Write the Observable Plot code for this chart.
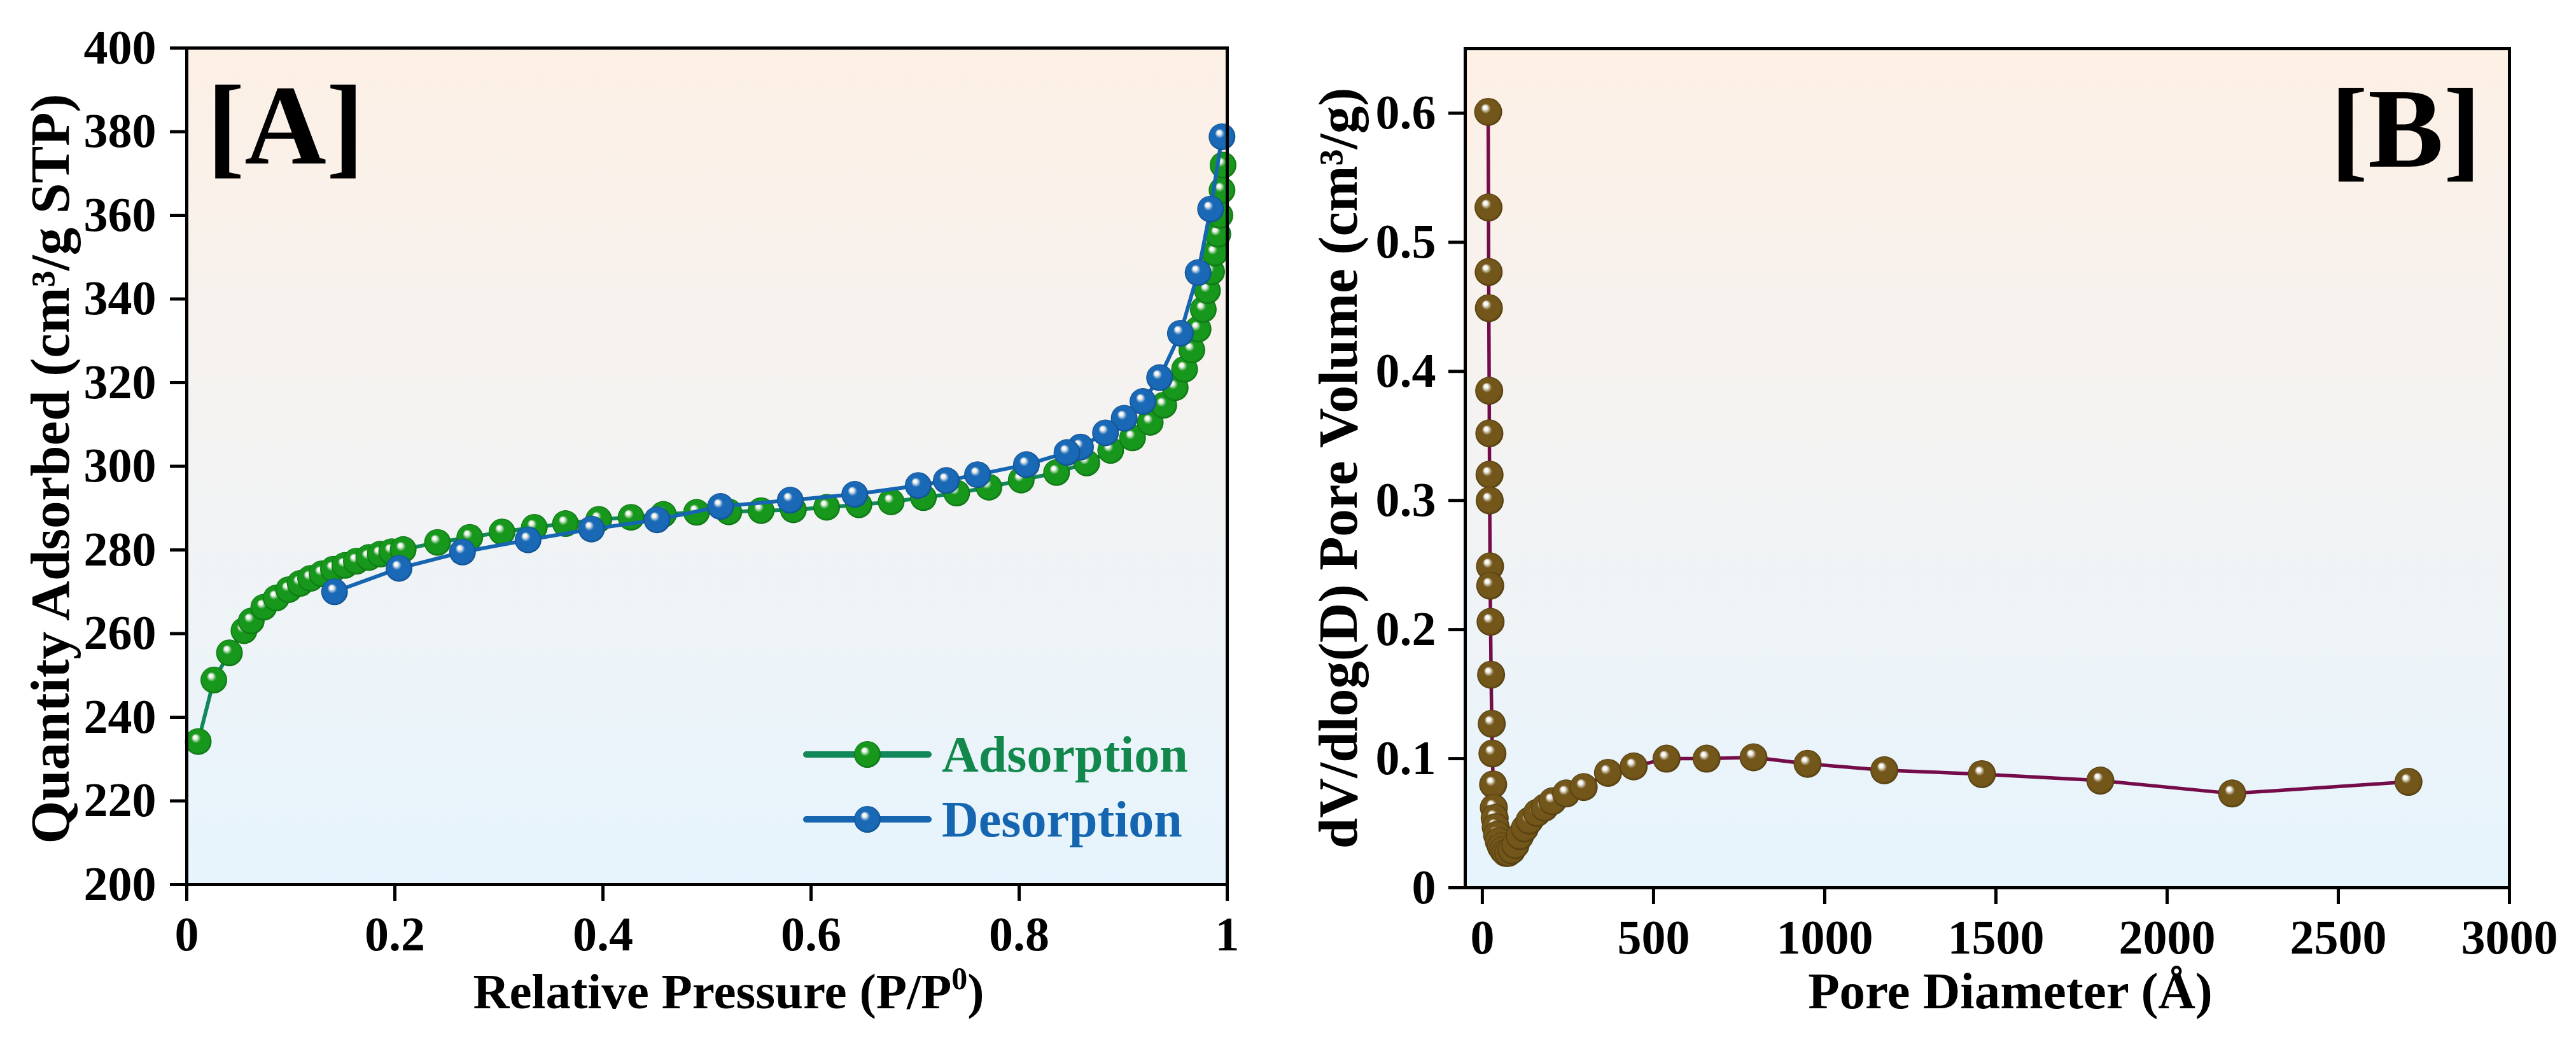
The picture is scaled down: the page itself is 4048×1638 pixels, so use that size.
<!DOCTYPE html>
<html><head><meta charset="utf-8">
<script src="https://cdn.jsdelivr.net/npm/d3@7"></script>
<script src="https://cdn.jsdelivr.net/npm/@observablehq/plot@0.6"></script>
<style>
body{margin:0;background:#fff;}
#wrap{display:flex;width:4048px;height:1638px;background:#fff;}
#wrap svg{flex:none;}
</style>
</head><body><div id="wrap"></div>
<script>
// ---------- Panel A: N2 isotherm ----------
const adsP = [0.011,0.026,0.041,0.055,0.062,0.074,0.086,0.098,0.109,0.119,0.130,0.141,0.152,0.163,0.175,0.186,0.197,0.208,0.241,0.272,0.303,0.334,0.364,0.396,0.427,0.458,0.490,0.521,0.552,0.583,0.615,0.646,0.677,0.708,0.740,0.771,0.802,0.836,0.865,0.888,0.909,0.926,0.939,0.950,0.959,0.966,0.972,0.977,0.981,0.985,0.988,0.991,0.993,0.995,0.996];
const adsQ = [234.2,248.9,255.4,260.7,263.0,266.3,268.5,270.5,272.0,273.2,274.3,275.4,276.3,277.3,278.2,279.0,279.6,280.1,281.8,283.0,284.3,285.4,286.3,287.3,287.8,288.5,289.0,289.1,289.4,289.6,290.2,290.8,291.5,292.5,293.6,295.0,296.7,298.5,300.8,303.8,306.8,310.5,314.6,318.8,323.2,327.8,332.8,337.5,342.0,346.5,351.0,355.5,360.0,366.0,372.0];
const desP = [0.995,0.984,0.972,0.955,0.935,0.919,0.901,0.883,0.859,0.846,0.807,0.760,0.730,0.703,0.642,0.580,0.513,0.452,0.389,0.328,0.265,0.204,0.142];
const desQ = [378.8,361.5,346.3,331.8,321.2,315.5,311.5,308.0,304.6,303.3,300.4,298.0,296.6,295.4,293.3,291.9,290.4,287.2,285.0,282.4,279.5,275.6,270.0];
const xTicksA = [0,0.2,0.4,0.6,0.8,1];
const yTicksA = [200,220,240,260,280,300,320,340,360,380,400];
const seriesNames = ["Adsorption","Desorption"];

// ---------- Panel B: pore size distribution ----------
const poreD = [17,18,18.5,19,20,20.5,21,21.5,22.5,23,24,25.5,27.5,29.5,31.5,33.5,36,39,43,48,54,61,68,76,86,97,110,124,138,160,182,205,245,296,367,442,538,655,792,950,1174,1459,1805,2190,2705];
const poreV = [0.601,0.527,0.477,0.449,0.385,0.352,0.320,0.300,0.249,0.234,0.206,0.165,0.127,0.104,0.080,0.062,0.054,0.047,0.041,0.036,0.032,0.029,0.027,0.027,0.029,0.033,0.040,0.046,0.052,0.058,0.062,0.067,0.073,0.078,0.089,0.094,0.100,0.100,0.101,0.096,0.091,0.088,0.083,0.073,0.082];
const xTicksB = [0,500,1000,1500,2000,2500,3000];
const yTicksB = [0,0.1,0.2,0.3,0.4,0.5,0.6];

const ads = adsP.map((p,i)=>({p, q: adsQ[i]}));
const des = desP.map((p,i)=>({p, q: desQ[i]}));
const pore = poreD.map((d,i)=>({d, v: poreV[i]}));

const FONT = "'Liberation Serif', 'Times New Roman', serif";
const svgStyle = {fontFamily: FONT, fontSize: "75px", fontWeight: "bold", background: "transparent", maxWidth: "none", overflow: "visible", color: "#000"};
const greenLine = "#12875a", blueLine = "#1565b0", plumLine = "#750c4a";
const greenText = "#12884c", blueText = "#1565b0";

function sphere(defs, id, base, dark) {
  const g = defs.append("radialGradient").attr("id", id)
    .attr("cx", 0.5).attr("cy", 0.5).attr("r", 0.5).attr("fx", 0.37).attr("fy", 0.32);
  g.append("stop").attr("offset", "0").attr("stop-color", "#ffffff");
  g.append("stop").attr("offset", "0.14").attr("stop-color", "#f4f4f0");
  g.append("stop").attr("offset", "0.36").attr("stop-color", base);
  g.append("stop").attr("offset", "0.86").attr("stop-color", base);
  g.append("stop").attr("offset", "1").attr("stop-color", dark);
}
function bg(defs, id) {
  const g = defs.append("linearGradient").attr("id", id).attr("x1",0).attr("y1",0).attr("x2",0).attr("y2",1);
  g.append("stop").attr("offset","0").attr("stop-color","#fdf0e5");
  g.append("stop").attr("offset","0.5").attr("stop-color","#f3f3f3");
  g.append("stop").attr("offset","1").attr("stop-color","#e6f4fd");
}

// ---------------- Panel A ----------------
const plotA = Plot.plot({
  width: 2024, height: 1638,
  marginLeft: 293, marginRight: 96, marginTop: 75, marginBottom: 248,
  x: {domain: [0, 1]},
  y: {domain: [200, 400]},
  style: svgStyle,
  marks: [
    Plot.frame({fill: "url(#bgA)"}),
    Plot.line(ads, {x: "p", y: "q", stroke: greenLine, strokeWidth: 6}),
    Plot.dot(ads, {x: "p", y: "q", r: 21, fill: "url(#sphGreen)", stroke: null}),
    Plot.line(des, {x: "p", y: "q", stroke: blueLine, strokeWidth: 6}),
    Plot.dot(des, {x: "p", y: "q", r: 21, fill: "url(#sphBlue)", stroke: null}),
    Plot.axisX({ticks: xTicksA, tickFormat: d => (d === 0 || d === 1) ? String(d) : d.toFixed(1), tickSize: 26, tickPadding: 24, strokeWidth: 5, label: null, fontSize: 76}),
    Plot.axisY({ticks: yTicksA, tickFormat: d => String(d), tickSize: 26, tickPadding: 22, strokeWidth: 5, label: null, fontSize: 76}),
    Plot.frame({stroke: "#000", strokeWidth: 5})
  ]
});

// ---------------- Panel B ----------------
const plotB = Plot.plot({
  width: 2024, height: 1638,
  marginLeft: 278, marginRight: 105, marginTop: 76, marginBottom: 243,
  x: {domain: [-50, 3000]},
  y: {domain: [0, 0.65]},
  style: svgStyle,
  marks: [
    Plot.frame({fill: "url(#bgB)"}),
    Plot.line(pore, {x: "d", y: "v", stroke: plumLine, strokeWidth: 5.5}),
    Plot.dot(pore, {x: "d", y: "v", r: 22, fill: "url(#sphBrown)", stroke: null}),
    Plot.axisX({ticks: xTicksB, tickFormat: d => String(d), tickSize: 26, tickPadding: 24, strokeWidth: 5, label: null, fontSize: 76}),
    Plot.axisY({ticks: yTicksB, tickFormat: d => d === 0 ? "0" : d.toFixed(1), tickSize: 26, tickPadding: 20, strokeWidth: 5, label: null, fontSize: 76}),
    Plot.frame({stroke: "#000", strokeWidth: 5})
  ]
});

// defs
{
  const dA = d3.select(plotA).insert("defs", ":first-child");
  bg(dA, "bgA");
  sphere(dA, "sphGreen", "#17981c", "#0c6e12");
  sphere(dA, "sphBlue", "#1a69b7", "#0f4d8c");
  const dB = d3.select(plotB).insert("defs", ":first-child");
  bg(dB, "bgB");
  sphere(dB, "sphBrown", "#73561a", "#4e3a0e");
}

// annotations Panel A
{
  const s = d3.select(plotA);
  const g = s.append("g").attr("font-family", FONT).attr("font-weight", "bold").attr("text-anchor", "start");
  g.append("text").attr("x", 325).attr("y", 257).attr("font-size", 178).attr("text-anchor", "start").text("[A]");
  const tx = g.append("text").attr("x", 1145).attr("y", 1585).attr("font-size", 79).attr("text-anchor", "middle");
  tx.append("tspan").text("Relative Pressure (P/P");
  tx.append("tspan").attr("font-size", 50).attr("dy", -30).text("0");
  tx.append("tspan").attr("dy", 30).text(")");
  g.append("text").attr("transform", "translate(108,737) rotate(-90)").attr("font-size", 87).attr("text-anchor", "middle")
    .text("Quantity Adsorbed (cm³/g STP)");
  // legend
  const items = [
    {name: seriesNames[0], line: greenLine, fill: "url(#sphGreen)", text: greenText, y: 1186},
    {name: seriesNames[1], line: blueLine, fill: "url(#sphBlue)", text: blueText, y: 1288}
  ];
  for (const it of items) {
    g.append("line").attr("x1", 1267).attr("x2", 1459).attr("y1", it.y).attr("y2", it.y)
      .attr("stroke", it.line).attr("stroke-width", 10).attr("stroke-linecap", "round");
    g.append("circle").attr("cx", 1363).attr("cy", it.y).attr("r", 21).attr("fill", it.fill);
    g.append("text").attr("x", 1480).attr("y", it.y + 27).attr("font-size", 80).attr("text-anchor", "start").attr("fill", it.text).text(it.name);
  }
}
// annotations Panel B
{
  const s = d3.select(plotB);
  const g = s.append("g").attr("font-family", FONT).attr("font-weight", "bold");
  g.append("text").attr("x", 1875).attr("y", 262).attr("font-size", 178).attr("text-anchor", "end").text("[B]");
  g.append("text").attr("x", 1135).attr("y", 1585).attr("font-size", 81).attr("text-anchor", "middle").text("Pore Diameter (Å)");
  g.append("text").attr("transform", "translate(108,736) rotate(-90)").attr("font-size", 87).attr("text-anchor", "middle")
    .text("dV/dlog(D) Pore Volume (cm³/g)");
}

document.getElementById("wrap").append(plotA, plotB);
</script>
</body></html>
